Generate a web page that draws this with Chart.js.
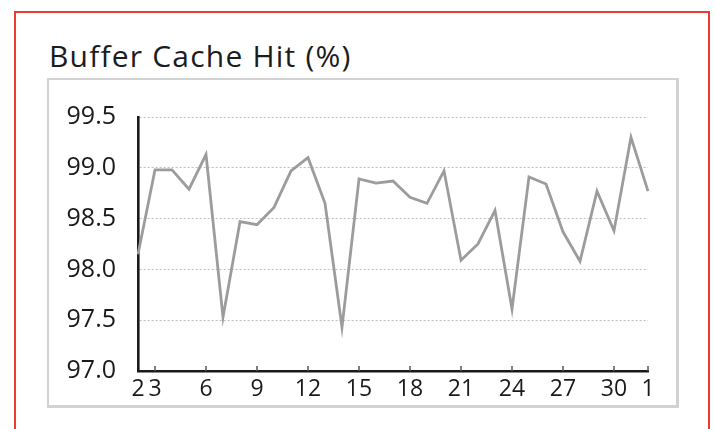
<!DOCTYPE html>
<html>
<head>
<meta charset="utf-8">
<script src="https://cdn.jsdelivr.net/npm/chart.js@4.4.0/dist/chart.umd.min.js"></script>
<style>
    html, body { margin: 0; padding: 0; background: #fff; }
    body { width: 715px; height: 429px; position: relative; overflow: hidden; font-family: "Open Sans", sans-serif; }
    .frame { position: absolute; left: 14px; top: 11px; width: 696px; height: 440px; border: 2px solid #ea3b30; box-sizing: border-box; }
    .panel { position: absolute; left: 47px; top: 78px; width: 632px; height: 330px; border: 2px solid #d2d2d2; border-right-width: 3px; border-bottom-width: 3px; box-sizing: border-box; }
    .title { position: absolute; left: 49px; top: 35px; font-size: 30px; letter-spacing: 1.2px; color: #1c1c1c; white-space: nowrap; }
    #wrap { position: absolute; left: 0; top: 0; width: 715px; height: 429px; }
</style>
</head>
<body>
<div class="frame"></div>
<div class="panel"></div>
<div class="title">Buffer Cache Hit (%)</div>
<div id="wrap"><canvas id="cacheChart" width="715" height="429"></canvas></div>

<script>
// days of the month on the x axis (2nd .. 31st, then 1st of next month)
const days = ['2', '3', '4', '5', '6', '7', '8', '9', '10', '11', '12', '13', '14', '15', '16',
    '17', '18', '19', '20', '21', '22', '23', '24', '25', '26', '27', '28', '29', '30', '31', '1'];

// only these day labels get printed
const shownDays = ['2', '3', '6', '9', '12', '15', '18', '21', '24', '27', '30', '1'];

// buffer cache hit ratio (%)
const hitRatio = [98.15, 98.98, 98.98, 98.79, 99.13, 97.53, 98.47, 98.44, 98.61, 98.97,
    99.10, 98.65, 97.43, 98.89, 98.85, 98.87, 98.71, 98.65, 98.97, 98.09,
    98.25, 98.58, 97.61, 98.91, 98.84, 98.37, 98.08, 98.77, 98.38, 99.30, 98.77];

// y axis range
const yMin = 97.0;
const yMax = 99.5;
const yStep = 0.5;

// little tick marks sitting on top of the x axis
const innerTicks = {
    id: 'innerTicks',
    afterDraw(chart) {
        const x = chart.scales.x;
        const ctx = chart.ctx;
        const bottom = chart.chartArea.bottom;
        ctx.save();
        ctx.strokeStyle = '#555';
        ctx.lineWidth = 1.5;
        days.forEach((d, i) => {
            if (i === 0 || !shownDays.includes(d)) return;
            const px = x.getPixelForValue(i);
            ctx.beginPath();
            ctx.moveTo(px, bottom);
            ctx.lineTo(px, bottom - 5);
            ctx.stroke();
        });
        ctx.restore();
    }
};

function renderCacheChart() {
    const ctx = document.getElementById('cacheChart').getContext('2d');

    new Chart(ctx, {
        type: 'line',
        data: {
            labels: days,
            datasets: [{
                data: hitRatio,
                borderColor: '#9c9c9c',
                borderWidth: 2.8,
                pointRadius: 0,
                tension: 0,
                fill: false
            }]
        },
        options: {
            responsive: false,
            animation: false,
            layout: {
                padding: { top: 117, right: 67, bottom: 0, left: 0 }
            },
            plugins: {
                title: { display: false },
                legend: { display: false },
                tooltip: { enabled: false }
            },
            scales: {
                x: {
                    offset: false,
                    afterFit: (scale) => { scale.height = 58; },
                    grid: { display: false, drawTicks: false },
                    border: { display: true, color: '#1a1a1a', width: 2.6 },
                    ticks: {
                        autoSkip: false,
                        maxRotation: 0,
                        padding: 5,
                        color: '#1a1a1a',
                        font: { family: 'Open Sans', size: 23 },
                        callback: function (value) {
                            const lbl = this.getLabelForValue(value);
                            return shownDays.includes(lbl) ? lbl : '';
                        }
                    }
                },
                y: {
                    min: yMin,
                    max: yMax,
                    afterFit: (scale) => { scale.width = 138; },
                    grid: {
                        color: (c) => c.tick && c.tick.value === yMin ? 'rgba(0,0,0,0)' : '#bdbdbd',
                        lineWidth: 1,
                        drawTicks: false
                    },
                    // in v4 the dash here is what makes the grid lines dotted
                    border: { display: true, color: '#1a1a1a', width: 2.6, dash: [2, 2] },
                    ticks: {
                        stepSize: yStep,
                        padding: 22,
                        color: '#1a1a1a',
                        font: { family: 'Open Sans', size: 25 },
                        callback: (value) => value.toFixed(1)
                    }
                }
            }
        },
        plugins: [innerTicks]
    });
}

document.fonts.load('25px "Open Sans"').then(renderCacheChart, renderCacheChart);
</script>
</body>
</html>
